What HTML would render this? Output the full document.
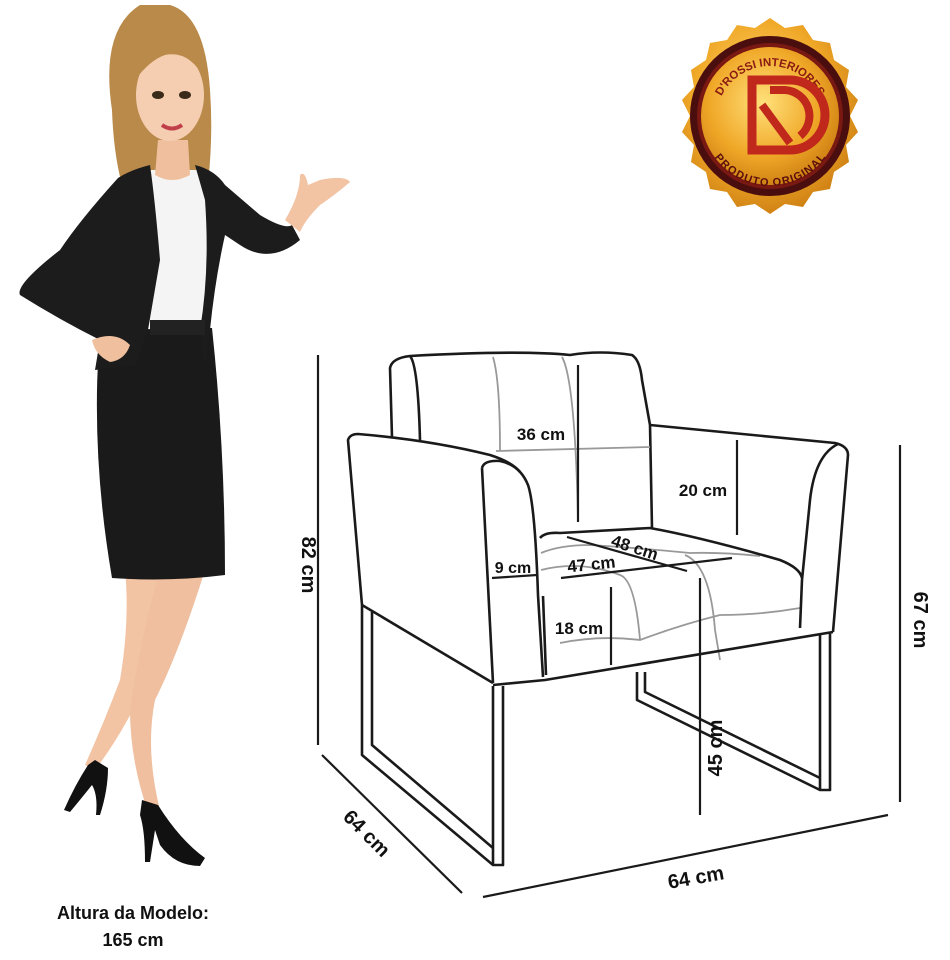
<!DOCTYPE html>
<html><head><meta charset="utf-8"><style>
body{margin:0;background:#fff;}
svg{display:block;font-family:"Liberation Sans",Arial,sans-serif;}
</style></head><body>
<svg width="950" height="960" viewBox="0 0 950 960" xmlns="http://www.w3.org/2000/svg">
<defs>
<radialGradient id="gold" cx="45%" cy="40%" r="65%"><stop offset="0" stop-color="#ffe07a"/><stop offset="0.6" stop-color="#f0a828"/><stop offset="1" stop-color="#c97a10"/></radialGradient>
<path id="topArc" d="M716,120 A54,54 0 0 1 824,120"/>
<path id="botArc" d="M712,118 A58,58 0 0 0 828,118"/>
</defs>

<!-- Badge -->
<g>
<path d="M770,18 L785,28 803,25 813,40 830,43 834,60 849,70 846,87 858,100 850,116 858,132 846,145 849,162 834,172 830,189 813,192 803,207 785,204 770,214 755,204 737,207 727,192 710,189 706,172 691,162 694,145 682,132 690,116 682,100 694,87 691,70 706,60 710,43 727,40 737,25 755,28Z" fill="url(#gold)"/>
<circle cx="770" cy="116" r="80" fill="#4a0e0e"/>
<circle cx="770" cy="116" r="73" fill="#7a1812"/>
<circle cx="770" cy="116" r="69" fill="url(#gold)"/>
<text font-size="11.5" font-weight="bold" fill="#8a1a12"><textPath href="#topArc" startOffset="50%" text-anchor="middle">D'ROSSI INTERIORES</textPath></text>
<text font-size="11" font-weight="bold" fill="#5a0e0c" dy="10"><textPath href="#botArc" startOffset="50%" text-anchor="middle">PRODUTO ORIGINAL</textPath></text>
<path d="M752,80 L752,150 L790,150 A35,35 0 0 0 790,80 Z" fill="none" stroke="#c0281c" stroke-width="9"/>
<path d="M770,90 L785,90 A26,26 0 0 1 800,136" fill="none" stroke="#c0281c" stroke-width="8"/>
<path d="M762,105 L790,143" stroke="#c0281c" stroke-width="8"/>
</g>

<!-- Woman -->
<g>
<path d="M140,5 Q100,30 112,110 Q115,200 150,245 L200,235 Q215,160 210,90 Q205,15 170,5Z" fill="#b98a4a"/>
<path d="M125,570 L170,570 Q160,640 138,700 Q118,740 95,770 L85,765 Q105,720 120,680 Q130,620 125,570Z" fill="#f2c4a4"/>
<path d="M160,570 L205,570 Q180,650 155,700 Q145,750 160,810 L148,812 Q130,760 130,710 Q140,640 160,570Z" fill="#efbf9f"/>
<path d="M95,760 L108,768 Q108,790 100,815 L96,815 Q98,795 92,785 Q80,800 70,812 L64,810 Q75,785 88,765Z" fill="#111"/>
<path d="M142,800 L158,805 Q180,840 205,858 L200,866 Q175,866 160,845 L155,830 L150,862 L145,862 Q145,830 140,815Z" fill="#111"/>
<path d="M100,330 L212,328 Q225,450 225,575 Q170,582 112,578 Q90,450 100,330Z" fill="#1a1a1a"/>
<path d="M150,170 L205,170 Q215,250 205,325 L150,328 Q140,250 150,170Z" fill="#f4f4f4"/>
<path d="M150,165 Q130,170 118,178 Q80,220 60,250 Q15,285 20,295 Q60,320 100,340 L95,370 L135,365 L148,330 L160,260 Q155,200 150,165Z" fill="#1c1c1c"/>
<path d="M195,165 Q215,170 225,185 L260,215 Q285,230 292,225 L300,240 Q270,265 240,245 L225,235 Q215,280 210,330 L205,365 L200,330 Q210,270 205,200Z" fill="#1c1c1c"/>
<path d="M150,320 L205,320 L205,335 L150,335Z" fill="#222"/>
<path d="M92,340 Q115,330 130,345 Q125,360 110,362 Q95,355 92,340Z" fill="#f0c09e"/>
<path d="M285,220 Q300,195 300,175 Q305,170 308,185 L320,180 Q345,175 350,182 Q335,195 320,205 Q305,220 300,232Z" fill="#f2c4a4"/>
<path d="M158,140 L188,140 L190,175 Q172,185 155,175Z" fill="#f0c09e"/>
<ellipse cx="170" cy="95" rx="34" ry="46" fill="#f5cdb0"/>
<path d="M135,70 Q150,20 180,30 Q200,45 205,80 Q190,50 165,55 Q150,60 135,80Z" fill="#b98a4a"/>
<ellipse cx="158" cy="95" rx="6" ry="4" fill="#3a2a1a"/>
<ellipse cx="185" cy="95" rx="6" ry="4" fill="#3a2a1a"/>
<path d="M162,125 Q172,132 182,125" stroke="#c0404a" stroke-width="4" fill="none"/>
</g>
<text x="133" y="919" font-size="18" font-weight="bold" text-anchor="middle" fill="#111">Altura da Modelo:</text>
<text x="133" y="946" font-size="18" font-weight="bold" text-anchor="middle" fill="#111">165 cm</text>

<!-- Chair -->
<g fill="none" stroke="#1a1a1a" stroke-width="2.6" stroke-linejoin="round">
<path d="M392,437 L390,368 Q392,358 410,356 Q520,350 570,355 Q600,350 632,355 Q640,360 642,380 L650,425 L652,528"/>
<path d="M410,356 Q418,365 420,440"/>
<g stroke="#999" stroke-width="1.8">
<path d="M493,357 Q500,380 500,450"/><path d="M562,357 Q575,380 578,520"/>
<path d="M496,451 L650,447"/>
<path d="M541,553 Q560,545 590,545 Q640,548 690,553 Q720,552 760,556"/>
<path d="M541,570 Q580,560 620,575 Q635,580 640,640"/>
<path d="M685,555 Q710,565 715,630 L720,660"/>
<path d="M560,643 Q600,635 640,640 Q680,625 720,615 Q760,615 800,608"/>
</g>
<path d="M362,605 L348,440 Q350,434 358,434 Q430,440 490,455 Q512,462 520,472"/>
<path d="M482,468 Q484,460 500,461 Q520,465 528,485 Q535,505 538,595 L543,677"/>
<path d="M482,468 L493,683"/>
<path d="M362,605 L493,683"/>
<path d="M543,596 L546,675"/>
<path d="M650,425 L835,443 Q848,446 848,455 L833,632"/>
<path d="M838,444 Q815,455 810,500 L802,580 L800,628"/>
<path d="M540,538 Q545,532 560,533 L650,528 Q700,537 780,560 Q800,568 802,578"/>
<path d="M493,685 L545,680 Q650,662 833,632"/>
<path d="M362,605 L362,755 L493,865 L503,865 L503,686"/>
<path d="M372,612 L372,745 L493,848"/>
<path d="M493,686 L493,865"/>
<path d="M637,672 L637,700 L820,790 L830,790 L830,632"/>
<path d="M645,672 L645,692 L820,778"/>
<path d="M820,634 L820,790"/>
</g>

<g stroke="#1a1a1a" stroke-width="2.2">
<line x1="318" y1="355" x2="318" y2="745"/>
<line x1="322" y1="755" x2="462" y2="893"/>
<line x1="483" y1="897" x2="888" y2="815"/>
<line x1="900" y1="445" x2="900" y2="802"/>
<line x1="578" y1="365" x2="578" y2="522"/>
<line x1="737" y1="440" x2="737" y2="535"/>
<line x1="567" y1="537" x2="687" y2="571"/>
<line x1="561" y1="578" x2="732" y2="558"/>
<line x1="492" y1="578" x2="537" y2="575"/>
<line x1="611" y1="587" x2="611" y2="665"/>
<line x1="700" y1="578" x2="700" y2="815"/>
</g>
<g font-weight="bold" fill="#111">
<text x="300" y="565" font-size="20" text-anchor="middle" transform="rotate(90 300 565)" dy="-2">82 cm</text>
<text x="362" y="838" font-size="20" text-anchor="middle" transform="rotate(45 362 838)">64 cm</text>
<text x="697" y="884" font-size="20" text-anchor="middle" transform="rotate(-10 697 884)">64 cm</text>
<text x="914" y="620" font-size="20" text-anchor="middle" transform="rotate(90 914 620)">67 cm</text>
<text x="722" y="748" font-size="20" text-anchor="middle" transform="rotate(-90 722 748)">45 cm</text>
<text x="541" y="440" font-size="17" text-anchor="middle">36 cm</text>
<text x="703" y="496" font-size="17" text-anchor="middle">20 cm</text>
<text x="633" y="553" font-size="17" text-anchor="middle" transform="rotate(18 633 553)">48 cm</text>
<text x="592" y="570" font-size="17" text-anchor="middle" transform="rotate(-6 592 570)">47 cm</text>
<text x="513" y="573" font-size="16" text-anchor="middle">9 cm</text>
<text x="579" y="634" font-size="17" text-anchor="middle">18 cm</text>
</g>
</svg>
</body></html>
